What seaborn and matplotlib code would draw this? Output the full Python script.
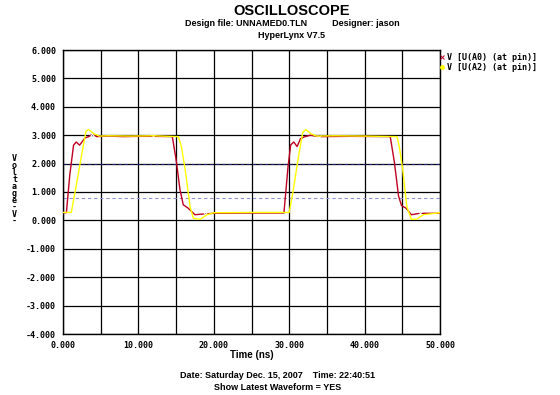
import pandas as pd
import matplotlib
matplotlib.use("Agg")
import matplotlib.pyplot as plt
import seaborn as sns
from matplotlib.lines import Line2D

# waveform samples (time in ns, volts)
red_t = [0, 0.45, 0.9, 1.4, 1.75, 2.2, 2.9, 3.4, 3.9, 4.5, 6, 8, 10, 12, 14.5,
         15.05, 15.5, 15.95, 16.6, 17.5, 18.8, 20, 25, 29.3, 29.85, 30.2, 30.6,
         31.05, 31.5, 32, 32.8, 34, 38, 43.4, 43.95, 44.5, 44.9, 45.5, 46.2, 47.3, 50]
red_v = [0.27, 0.27, 1.6, 2.65, 2.76, 2.65, 2.9, 2.95, 3.03, 2.95, 2.97, 2.95, 2.96, 2.96, 2.95,
         2.05, 1.1, 0.55, 0.43, 0.2, 0.23, 0.25, 0.26, 0.26, 1.9, 2.66, 2.76,
         2.6, 2.88, 2.94, 3.0, 2.95, 2.96, 2.95, 2.05, 0.86, 0.52, 0.43, 0.2, 0.25, 0.25]

yel_t = [0, 1.1, 1.6, 2.4, 3.05, 3.4, 4.1, 4.8, 6, 9, 12, 15.3, 15.7, 16.2, 16.85,
         17.3, 18.2, 19.1, 20, 25, 30.0, 30.5, 31.2, 31.8, 32.2, 32.9, 33.6, 36, 40,
         44.3, 44.6, 45.05, 45.6, 46.2, 46.9, 47.8, 50]
yel_v = [0.28, 0.28, 1.0, 2.2, 3.14, 3.2, 3.05, 2.97, 2.98, 2.97, 2.98, 2.95, 2.6, 1.8, 0.48,
         0.07, 0.04, 0.2, 0.27, 0.28, 0.28, 1.0, 2.2, 3.1, 3.2, 3.05, 2.97, 2.98, 2.97,
         2.95, 2.6, 1.8, 0.48, 0.04, 0.04, 0.2, 0.27]

labels = ["V [U(A0) (at pin)]", "V [U(A2) (at pin)]"]
thresholds = [2.0, 0.8]

red_df = pd.DataFrame({"time": red_t, "volt": red_v})
yel_df = pd.DataFrame({"time": yel_t, "volt": yel_v})

sns.set_style("white")
plt.rcParams.update({"text.color": "black", "axes.labelcolor": "black",
                     "xtick.color": "black", "ytick.color": "black"})
mono = "DejaVu Sans Mono"
narrow = ["Liberation Sans Narrow", "Liberation Sans", "DejaVu Sans"]

fig = plt.figure(figsize=(5.6, 3.95), dpi=100)
ax = fig.add_axes([63 / 560, 1 - 334 / 395, (440 - 63) / 560, (334 - 50) / 395])

red = "#C00020"
yel = "#FFFF00"

# threshold lines
ax.axhline(thresholds[0], color="#202070", lw=0.8, ls=(0, (3, 2.5)), zorder=2)
ax.axhline(thresholds[1], color="#9090D0", lw=0.8, ls=(0, (3, 2.5)), zorder=2)

sns.lineplot(data=red_df, x="time", y="volt", ax=ax, color=red, lw=1,
             estimator=None, sort=False, marker="x", markersize=3,
             markeredgewidth=0.7, markevery=[8, 13, 20, 31, 39], zorder=3)
sns.lineplot(data=yel_df, x="time", y="volt", ax=ax, color=yel, lw=1,
             estimator=None, sort=False, zorder=4)

ax.set_xlim(0, 50)
ax.set_ylim(-4, 6)
ax.set_xticks([0, 10, 20, 30, 40, 50])
ax.set_xticks([5, 15, 25, 35, 45], minor=True)
ax.set_xticklabels([f"{v:.3f}" for v in [0, 10, 20, 30, 40, 50]],
                   fontfamily=mono, fontweight="bold", fontsize=6)
yt = list(range(-4, 7))
ax.set_yticks(yt)
ax.set_yticklabels([f"{v:.3f}" for v in yt], fontfamily=mono, fontweight="bold", fontsize=6)
ax.grid(True, which="both", color="black", lw=0.9, zorder=1)
ax.set_axisbelow(True)
ax.tick_params(axis="both", which="both", length=3, width=0.8, color="black", pad=2)
for s in ax.spines.values():
    s.set_color("black")
    s.set_linewidth(1)
ax.set_xlabel("Time (ns)", fontfamily=narrow, fontweight="bold", fontsize=7, labelpad=0)
ax.set_ylabel("")

fig.text(0.026, 1 - 190 / 395, "V\no\nl\nt\na\ng\ne\n-\nV\n-", ha="center", va="center",
         fontfamily=mono, fontweight="bold", fontsize=6, linespacing=0.72)

# header and footer
fig.text(292 / 560, 1 - 11 / 395, "OSCILLOSCOPE", ha="center", va="center",
         fontfamily=narrow, fontweight="bold", fontsize=10.5)
fig.text(292 / 560, 1 - 23 / 395, "Design file: UNNAMED0.TLN          Designer: jason",
         ha="center", va="center", fontfamily=narrow, fontweight="bold", fontsize=6.5)
fig.text(292 / 560, 1 - 35 / 395, "HyperLynx V7.5", ha="center", va="center",
         fontfamily=narrow, fontweight="bold", fontsize=6.5)
fig.text(278 / 560, 1 - 376 / 395, "Date: Saturday Dec. 15, 2007    Time: 22:40:51",
         ha="center", va="center", fontfamily=narrow, fontweight="bold", fontsize=6.5)
fig.text(278 / 560, 1 - 387 / 395, "Show Latest Waveform = YES", ha="center", va="center",
         fontfamily=narrow, fontweight="bold", fontsize=6.5)

handles = [Line2D([], [], color=red, marker="x", ls="none", markersize=3, markeredgewidth=0.7),
           Line2D([], [], color=yel, marker="o", ls="none", markersize=2.5)]
fig.legend(handles, labels, loc="upper left", bbox_to_anchor=(440 / 560, 1 - 53 / 395),
           frameon=False, handlelength=0.5, handletextpad=0.3, labelspacing=0.15,
           borderpad=0, borderaxespad=0, prop={"family": mono, "weight": "bold", "size": 6})

fig.savefig("out.png", dpi=100, facecolor="white")
